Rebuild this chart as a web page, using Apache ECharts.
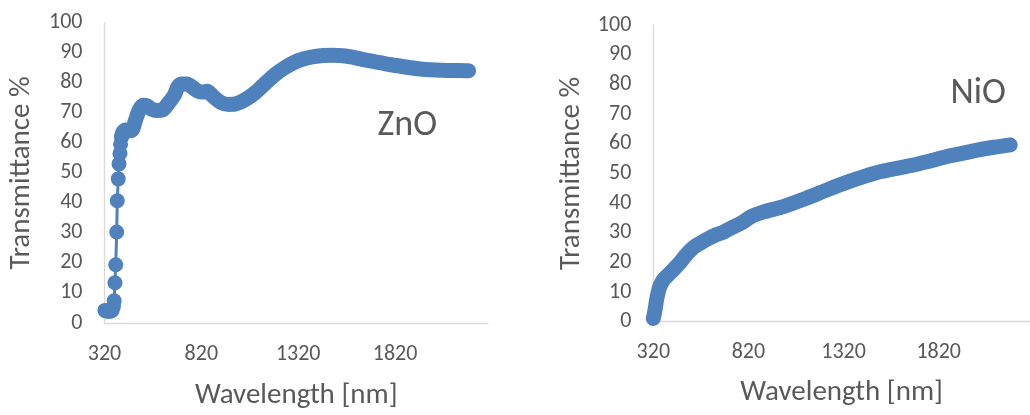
<!DOCTYPE html>
<html>
<head>
<meta charset="utf-8">
<script src="https://cdn.jsdelivr.net/npm/echarts@6/dist/echarts.min.js"></script>
<style>
  html, body { margin: 0; padding: 0; background: #ffffff; }
  #chart { width: 1030px; height: 415px; }
</style>
</head>
<body>
<div id="chart"></div>
<script>
// ---------- data ----------
// ZnO: steep absorption edge (individual markers visible)
const znoEdgeWavelength = [322, 330, 338, 346, 354, 360, 366, 370, 374, 378, 383, 386, 391, 395, 400, 403, 408];
const znoEdgeTransmittance = [4.2, 4.0, 3.9, 3.9, 4.0, 4.3, 5.5, 7.4, 13.4, 19.4, 30.3, 40.7, 48.0, 53.0, 56.5, 59.5, 62.0];
// ZnO: dense region (markers merge into a band)
const znoWavelength = [408, 415, 430, 450, 465, 480, 500, 520, 540, 560, 590, 620, 650, 680, 700, 720, 745, 770, 800, 830, 850, 880, 920, 960, 1000, 1050, 1100, 1150, 1200, 1250, 1300, 1350, 1400, 1450, 1500, 1550, 1600, 1650, 1700, 1750, 1800, 1850, 1900, 1950, 2000, 2050, 2100, 2150, 2200];
const znoTransmittance = [62.0, 63.5, 64.3, 64.0, 64.5, 67.5, 71.0, 72.5, 72.3, 71.3, 70.8, 71.0, 73.2, 75.8, 78.8, 79.6, 79.6, 78.7, 77.3, 76.9, 77.2, 75.5, 73.5, 72.8, 73.0, 74.5, 76.8, 79.8, 82.7, 85.0, 86.8, 88.0, 88.7, 89.1, 89.2, 89.0, 88.5, 87.8, 87.2, 86.6, 86.0, 85.5, 85.0, 84.6, 84.3, 84.2, 84.1, 84.1, 84.0];
// NiO
const nioWavelength = [320, 328, 337, 346, 354, 370, 389, 420, 457, 490, 525, 570, 611, 650, 690, 700, 740, 790, 833, 900, 1004, 1124, 1240, 1346, 1430, 1517, 1600, 1688, 1770, 1859, 1950, 2030, 2110, 2196];
const nioTransmittance = [1.1, 3.5, 7.3, 10.0, 11.8, 13.8, 15.2, 17.2, 19.7, 22.3, 24.7, 26.6, 28.1, 29.3, 30.2, 30.6, 31.9, 33.5, 35.4, 37.0, 38.8, 41.6, 44.6, 47.2, 49.0, 50.6, 51.7, 52.8, 54.1, 55.6, 56.8, 57.9, 58.8, 59.6];

const xTickStart = 320;   // first labelled wavelength
const xTickStep = 500;    // labelled every 500 nm
const xAxisEnd = 2300;
const yMin = 0, yMax = 100, yStep = 10;

const axisTitleX = 'Wavelength [nm]';
const axisTitleY = 'Transmittance %';
const panelLabels = ['ZnO', 'NiO'];

// ---------- chart ----------
const FONT = 'Carlito, Lato, "Open Sans", sans-serif';
const GRAY_TEXT = '#595959';
const AXIS_GRAY = '#d9d9d9';
const BLUE = '#4f81bd';

function zip(xs, ys) { return xs.map((x, i) => [x, ys[i]]); }

function xAxisCfg(gridIndex, gap) {
  return {
    gridIndex, type: 'value', min: xTickStart, max: xAxisEnd, interval: xTickStep,
    name: axisTitleX, nameLocation: 'middle', nameGap: gap,
    nameTextStyle: { fontFamily: FONT, fontSize: 29, color: GRAY_TEXT },
    axisLine: { show: true, onZero: false, lineStyle: { color: AXIS_GRAY, width: 1.3 } },
    axisTick: { show: false },
    splitLine: { show: false },
    axisLabel: { fontFamily: FONT, fontSize: 22, color: GRAY_TEXT, margin: 20, showMaxLabel: false,
                 formatter: v => String(v) }
  };
}
function yAxisCfg(gridIndex, gap) {
  return {
    gridIndex, type: 'value', min: yMin, max: yMax, interval: yStep,
    name: axisTitleY, nameLocation: 'middle', nameGap: gap, nameRotate: 90,
    nameTextStyle: { fontFamily: FONT, fontSize: 29, color: GRAY_TEXT },
    axisLine: { show: true, lineStyle: { color: AXIS_GRAY, width: 1.3 } },
    axisTick: { show: false },
    splitLine: { show: false },
    axisLabel: { fontFamily: FONT, fontSize: 22, color: GRAY_TEXT, margin: 22 }
  };
}

const chart = echarts.init(document.getElementById('chart'), null, { renderer: 'canvas' });
chart.setOption({
  animation: false,
  backgroundColor: '#ffffff',
  grid: [
    { left: 104.5, top: 22.7, width: 383.5, height: 304, containLabel: false },
    { left: 653.3, top: 25, width: 386, height: 296.7, containLabel: false }
  ],
  xAxis: [xAxisCfg(0, 58), xAxisCfg(1, 57)],
  yAxis: [yAxisCfg(0, 68), yAxisCfg(1, 67.5)],
  graphic: [
    { type: 'text', left: 377.5, top: 108, style: { text: panelLabels[0], font: '36px ' + FONT, fill: GRAY_TEXT } },
    { type: 'text', left: 950.5, top: 76, style: { text: panelLabels[1], font: '36px ' + FONT, fill: GRAY_TEXT } }
  ],
  series: [
    {
      type: 'line', xAxisIndex: 0, yAxisIndex: 0, clip: false,
      data: zip(znoEdgeWavelength, znoEdgeTransmittance),
      symbol: 'circle', symbolSize: 15, showSymbol: true,
      itemStyle: { color: BLUE },
      lineStyle: { color: BLUE, width: 3 }
    },
    {
      type: 'line', xAxisIndex: 0, yAxisIndex: 0, clip: false,
      data: zip(znoWavelength, znoTransmittance),
      symbol: 'none', smooth: 0.3,
      lineStyle: { color: BLUE, width: 15, cap: 'round', join: 'round' }
    },
    {
      type: 'line', xAxisIndex: 1, yAxisIndex: 1, clip: false,
      data: zip(nioWavelength, nioTransmittance),
      symbol: 'none', smooth: 0.3,
      lineStyle: { color: BLUE, width: 15, cap: 'round', join: 'round' }
    }
  ]
});
</script>
</body>
</html>
